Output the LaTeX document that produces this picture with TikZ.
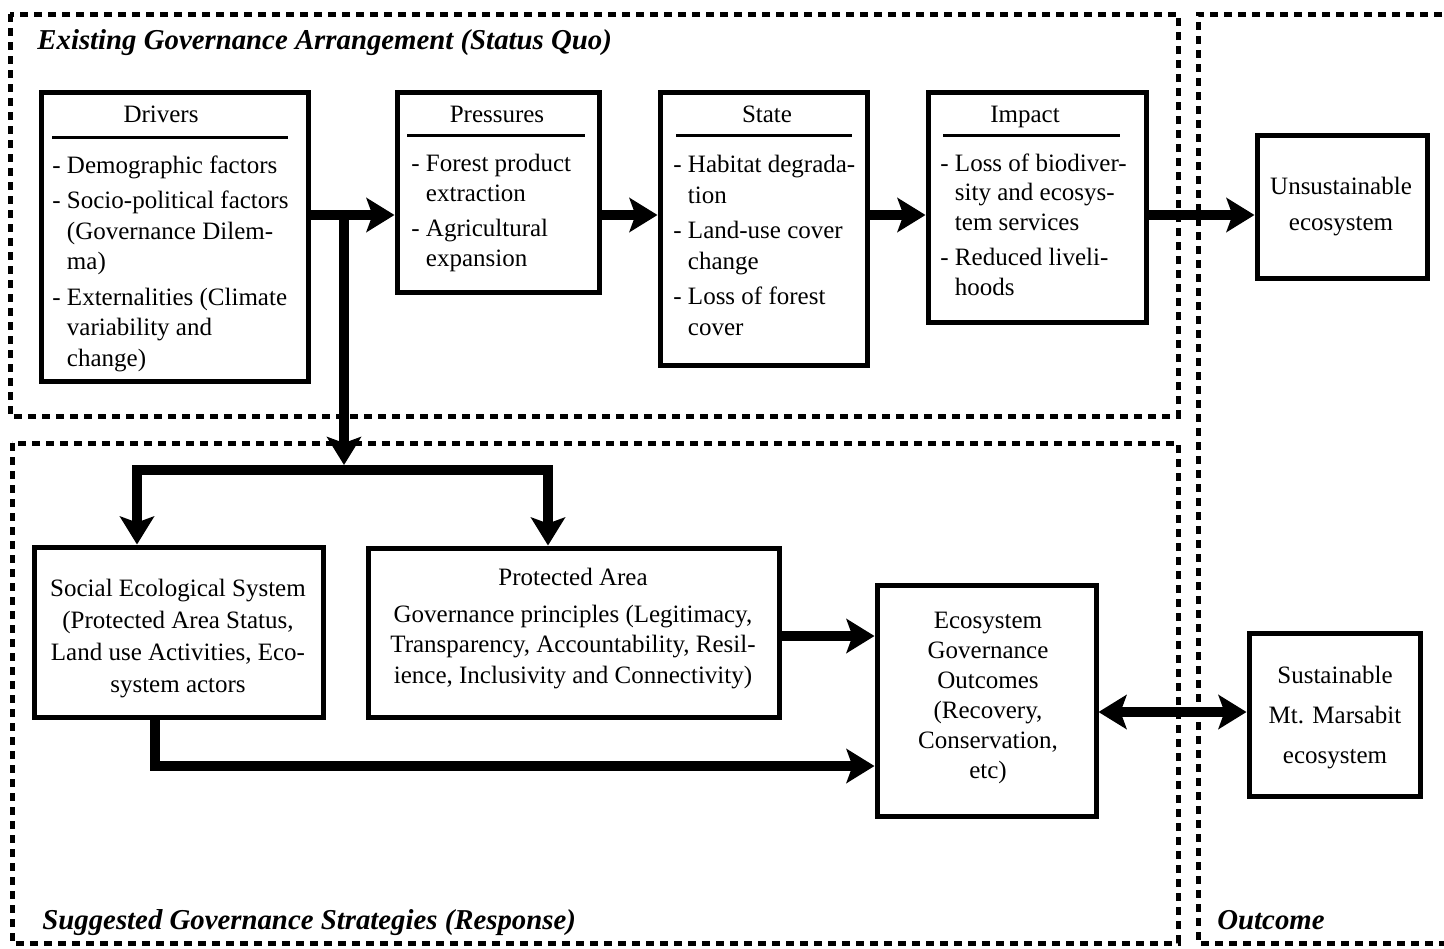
\documentclass[tikz,border=0pt]{standalone}
\usepackage{fontspec}
\setmainfont{Liberation Serif}
\usetikzlibrary{arrows.meta,fit,calc}
\newcommand{\ind}{\hphantom{-\ }}
\tikzset{
  region/.style={line width=2.5pt, dash pattern=on 4pt off 3pt},
  box/.style={draw, line width=2.5pt, inner sep=0pt},
  hrule/.style={line width=1.5pt},
  body/.style={font=\fontsize{12.5}{15.25}\selectfont, inner sep=0pt},
  header/.style={body, anchor=base},
  heading/.style={font=\fontsize{14.4}{17}\selectfont\bfseries\itshape, inner sep=0pt, anchor=base west},
  tip/.tip={Stealth[length=14pt,width=17pt,inset=3pt]},
  flow/.style={line width=5pt, -tip},
  flow2/.style={line width=5pt, tip-tip},
}
\begin{document}
\begin{tikzpicture}[x=0.5pt,y=-0.5pt]
\useasboundingbox (0,0) rectangle (1444,948);

% regions
\draw[region] (10,14) rectangle (1178,416);
\draw[region] (12,443) rectangle (1178,943);
\draw[region] (1470,14) -- (1198,14) -- (1198,943) -- (1470,943);

\node[heading] (t1) at (37,49) {Existing Governance Arrangement (Status Quo)};
\node[heading] (t2) at (42,929) {Suggested Governance Strategies (Response)};
\node[heading] (t3) at (1217,929) {Outcome};

% helper coordinates
\coordinate (r1) at (0,215);
\coordinate (sp1) at (344,215);
\coordinate (sp2) at (344,465);
\coordinate (bar) at (344,470);
\coordinate (xl) at (137,0);
\coordinate (xr) at (548,0);
\coordinate (y636) at (0,636);
\coordinate (x155) at (155,0);
\coordinate (y766) at (0,766);
\coordinate (y712) at (0,712);

% top row boxes
\node[box, fit={(41,92) (308,381)}] (drv) {};
\node[header] (drvh) at (161,122) {Drivers};
\draw[hrule] (52,137) -- (288,137);
\node[body, align=left, anchor=north west] (drvt) at (52,155) {- Demographic factors\\[2.5pt]
- Socio-political factors\\ \ind(Governance Dilem-\\ \ind ma)\\[2.5pt]
- Externalities (Climate\\ \ind variability and\\ \ind change)};

\node[box, fit={(397,92) (599,292)}] (prs) {};
\node[header] (prsh) at (497,122) {Pressures};
\draw[hrule] (407,135) -- (585,135);
\node[body, align=left, anchor=north west, font=\fontsize{12.5}{15}\selectfont] (prst) at (411,154) {- Forest product\\ \ind extraction\\[2.5pt]
- Agricultural\\ \ind expansion};

\node[box, fit={(660,92) (867,365)}] (sta) {};
\node[header] (stah) at (767,122) {State};
\draw[hrule] (676,135) -- (852,135);
\node[body, align=left, anchor=north west] (stat) at (673,155) {- Habitat degrada-\\ \ind tion\\[2.5pt]
- Land-use cover\\ \ind change\\[2.5pt]
- Loss of forest\\ \ind cover};

\node[box, fit={(928,92) (1146,322)}] (imp) {};
\node[header] (imph) at (1025,122) {Impact};
\draw[hrule] (943,135) -- (1120,135);
\node[body, align=left, anchor=north west, font=\fontsize{12.5}{14.75}\selectfont] (impt) at (940,153) {- Loss of biodiver-\\ \ind sity and ecosys-\\ \ind tem services\\[3pt]
- Reduced liveli-\\ \ind hoods};

\node[box, fit={(1257,135) (1427,278)}] (uns) {};
\node[body, align=center, font=\fontsize{12.5}{18}\selectfont] (unst) at (1341,207) {Unsustainable\\ ecosystem};

% bottom boxes
\node[box, fit={(34,547) (323,717)}] (ses) {};
\node[body, align=center, anchor=north, font=\fontsize{12.5}{16}\selectfont] (sest) at (178,579) {Social Ecological System\\ (Protected Area Status,\\ Land use Activities, Eco-\\ system actors};

\node[box, fit={(368,548) (779,717)}] (pa) {};
\node[body, align=center, anchor=north] (pat) at (573,568) {Protected Area\\[3pt] Governance principles (Legitimacy,\\ Transparency, Accountability, Resil-\\ ience, Inclusivity and Connectivity)};

\node[box, fit={(877,585) (1096,816)}] (ego) {};
\node[body, align=center, anchor=north, font=\fontsize{12.5}{15}\selectfont] (egot) at (988,612) {Ecosystem\\ Governance\\ Outcomes\\ (Recovery,\\ Conservation,\\ etc)};

\node[box, fit={(1249,633) (1420,796)}] (sus) {};
\node[body, align=center, font=\fontsize{12.5}{20}\selectfont] (sust) at (1335,718) {Sustainable\\ Mt. Marsabit\\ ecosystem};

% connectors
\draw[flow] (drv.east |- r1) -- (prs.west |- r1);
\draw[flow] (prs.east |- r1) -- (sta.west |- r1);
\draw[flow] (sta.east |- r1) -- (imp.west |- r1);
\draw[flow] (imp.east |- r1) -- (uns.west |- r1);
\draw[flow] (sp1) -- (sp2);
\draw[flow2] (ses.north -| xl) |- (bar) -| (pa.north -| xr);
\draw[flow] (pa.east |- y636) -- (ego.west |- y636);
\draw[flow] (ses.south -| x155) |- (ego.west |- y766);
\draw[flow2] (ego.east |- y712) -- (sus.west |- y712);
\end{tikzpicture}
\end{document}
